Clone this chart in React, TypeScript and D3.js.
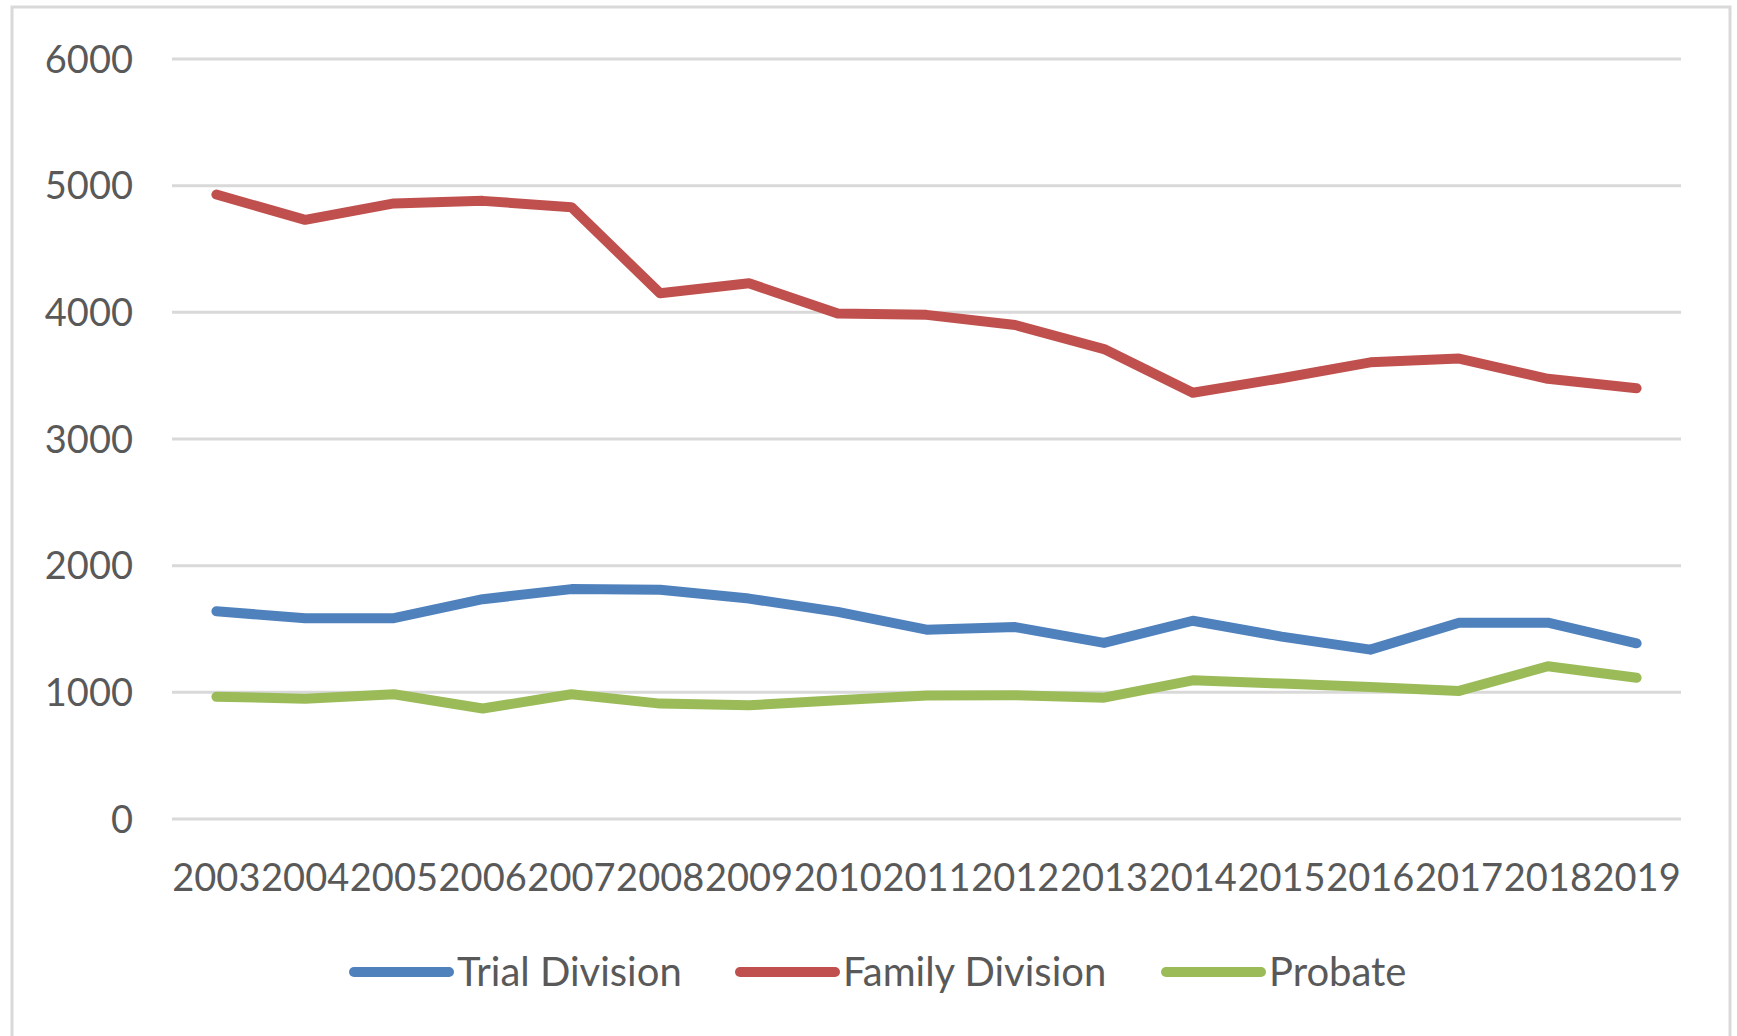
import React from "react";
import { scaleBand, scaleLinear, line } from "d3";

const years = [
  "2003", "2004", "2005", "2006", "2007", "2008", "2009", "2010", "2011",
  "2012", "2013", "2014", "2015", "2016", "2017", "2018", "2019",
];
const trialDivision = [
  1640, 1585, 1585, 1735, 1815, 1810, 1740, 1635, 1495, 1515, 1390, 1565,
  1440, 1337, 1550, 1550, 1387,
];
const familyDivision = [
  4930, 4730, 4860, 4880, 4830, 4150, 4230, 3990, 3980, 3900, 3710, 3365,
  3480, 3605, 3635, 3475, 3400,
];
const probate = [
  965, 950, 985, 872, 985, 911, 898, 937, 975, 977, 958, 1095, 1069, 1042,
  1011, 1206, 1115,
];
const yTicks = [0, 1000, 2000, 3000, 4000, 5000, 6000];

const seriesList = [
  { name: "Trial Division", values: trialDivision, color: "#4F81BD" },
  { name: "Family Division", values: familyDivision, color: "#C0504D" },
  { name: "Probate", values: probate, color: "#9BBB59" },
];

const FONT = "Lato, 'Open Sans', sans-serif";
const TEXT = "#595959";

export const App = () => {
  const width = 1737;
  const height = 1036;
  const margin = { top: 59, right: 56, bottom: 217, left: 172 };
  const innerWidth = width - margin.left - margin.right;
  const innerHeight = height - margin.top - margin.bottom;

  const xScale = scaleBand().domain(years).range([0, innerWidth]);
  const yScale = scaleLinear().domain([0, 6000]).range([innerHeight, 0]);

  const legendX = [354, 740, 1166];

  return (
    <svg
      width={width}
      height={height}
      style={{ position: "absolute", left: 0, top: 0, background: "#fff" }}
    >
      <rect
        x={12}
        y={7}
        width={1718}
        height={1045}
        fill="none"
        stroke="#D9D9D9"
        strokeWidth={3}
      />
      <g transform={`translate(${margin.left},${margin.top})`}>
        {yTicks.map((t) => (
          <g key={t}>
            <line
              x1={0}
              x2={innerWidth}
              y1={yScale(t)}
              y2={yScale(t)}
              stroke="#D9D9D9"
              strokeWidth={3}
            />
            <text
              x={-39}
              y={yScale(t)}
              dy="0.36em"
              textAnchor="end"
              fontFamily={FONT}
              fontSize={38}
              fill={TEXT}
            >
              {t}
            </text>
          </g>
        ))}
        {years.map((y) => (
          <text
            key={y}
            x={xScale(y)! + xScale.bandwidth() / 2}
            y={innerHeight + 72}
            textAnchor="middle"
            fontFamily={FONT}
            fontSize={38}
            fill={TEXT}
          >
            {y}
          </text>
        ))}
        {seriesList.map((s) => {
          const path = line<number>()
            .x((_, i) => xScale(years[i])! + xScale.bandwidth() / 2)
            .y((d) => yScale(d));
          return (
            <path
              key={s.name}
              d={path(s.values) || ""}
              fill="none"
              stroke={s.color}
              strokeWidth={10}
              strokeLinecap="round"
              strokeLinejoin="round"
            />
          );
        })}
      </g>
      {seriesList.map((s, i) => (
        <g key={s.name} transform={`translate(${legendX[i]},972)`}>
          <line
            x1={0}
            x2={95}
            y1={0}
            y2={0}
            stroke={s.color}
            strokeWidth={10}
            strokeLinecap="round"
          />
          <text
            x={103}
            y={0}
            dy="0.36em"
            fontFamily={FONT}
            fontSize={40}
            fill={TEXT}
          >
            {s.name}
          </text>
        </g>
      ))}
    </svg>
  );
};

export default App;
